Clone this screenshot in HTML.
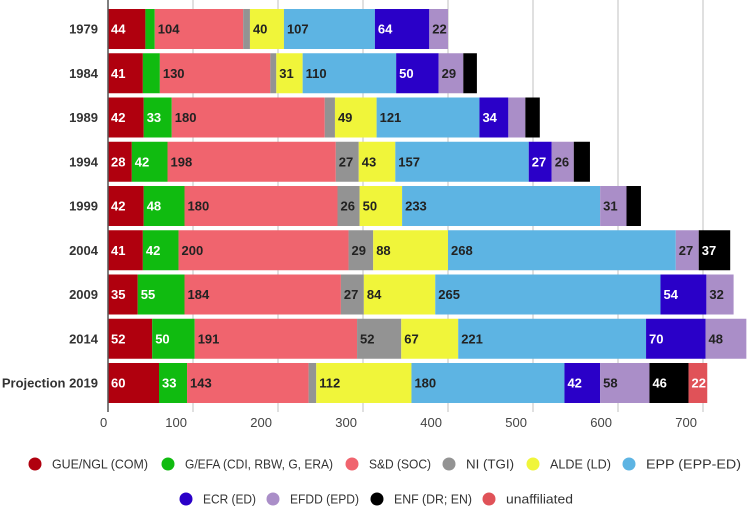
<!DOCTYPE html>
<html><head><meta charset="utf-8"><style>
body{margin:0;background:#fff;font-family:"Liberation Sans",sans-serif;}
svg{display:block}
</style></head><body>
<svg id="chart" width="756" height="514"></svg>
<script>
const categories=["1979","1984","1989","1994","1999","2004","2009","2014","Projection 2019"];
const groups=["GUE/NGL (COM)","G/EFA (CDI, RBW, G, ERA)","S&D (SOC)","NI (TGI)","ALDE (LD)","EPP (EPP-ED)","ECR (ED)","EFDD (EPD)","ENF (DR; EN)","unaffiliated"];
const colors=["#b0000e","#10bb10","#f0646e","#939393","#f0f53a","#5db4e3","#2a00c8","#aa8ec8","#000000","#e05258"];
const lightText=[true,true,false,false,false,false,true,false,true,true];
const gue=[44,41,42,28,42,41,35,52,60];
const gefa=[11,20,33,42,48,42,55,50,33];
const sd=[104,130,180,198,180,200,184,191,143];
const ni=[8,7,12,27,26,29,27,52,9];
const alde=[40,31,49,43,50,88,84,67,112];
const epp=[107,110,121,157,233,268,265,221,180];
const ecr=[64,50,34,27,0,0,54,70,42];
const efdd=[22,29,20,26,31,27,32,48,58];
const enf=[0,16,17,19,17,37,0,0,46];
const unaff=[0,0,0,0,0,0,0,0,22];
const series=[gue,gefa,sd,ni,alde,epp,ecr,efdd,enf,unaff];
const ticks=[0,100,200,300,400,500,600,700];

const NS="http://www.w3.org/2000/svg";
const svg=document.getElementById('chart');
const x0=108,k=0.85,top0=9,step=44.25,bh=40;
const xs=v=>x0+v*k;
const yc=i=>top0+i*step;
function mk(t,a){const e=document.createElementNS(NS,t);for(const n in a)e.setAttribute(n,a[n]);svg.appendChild(e);return e;}
ticks.forEach(t=>{
  if(t>0){const g=mk('line',{x1:xs(t),x2:xs(t),y1:0,y2:412,stroke:'#cfcfcf','stroke-width':1.3});
  
  }
  const l=mk('text',{x:t==0?xs(t)-8:xs(t)-6,y:427,'text-anchor':t==0?'start':'end','font-size':13,fill:'#444'});
  l.textContent=t;
  
  
});
categories.forEach((c,i)=>{
  const y=yc(i);
  const lab=mk('text',{x:98,y:y+bh/2+4.5,'text-anchor':'end','font-size':13,'font-weight':'bold',fill:'#333'});
  lab.textContent=c;
  
  
  let acc=0;
  series.forEach((s,j)=>{
    const v=s[i];if(!v)return;
    const r=mk('rect',{x:xs(acc),y:y,width:v*k,height:bh,fill:colors[j]});
    
    
    if(v>=22){
      const t=mk('text',{x:xs(acc)+3,y:y+bh/2+4.5,'font-size':13,'font-weight':'bold',fill:lightText[j]?'#fff':'#222'});
      t.textContent=v;
      
      
    }
    acc+=v;
  });
});
const ax=mk('line',{x1:x0,x2:x0,y1:0,y2:412,stroke:'#555','stroke-width':1.5});


// legend (layout positions, not data)
const legendLayout=[
  [0,35,464,148],[1,168,464,333],[2,352,464,431],[3,449,464,514],[4,533,464,611],[5,629,464,741],
  [6,186,499,256],[7,273,499,359],[8,377,499,472],[9,489,499,573]
];
legendLayout.forEach(([j,cx,cy,end])=>{
  const c=mk('circle',{cx:cx,cy:cy,r:6.5,fill:colors[j]});
  
  
  const tx=cx+17;
  const t=mk('text',{x:tx,y:cy+4.5,'font-size':13,fill:'#333',textLength:end-tx,lengthAdjust:'spacingAndGlyphs'});
  t.textContent=groups[j];
  
  
});
</script>
</body></html>
